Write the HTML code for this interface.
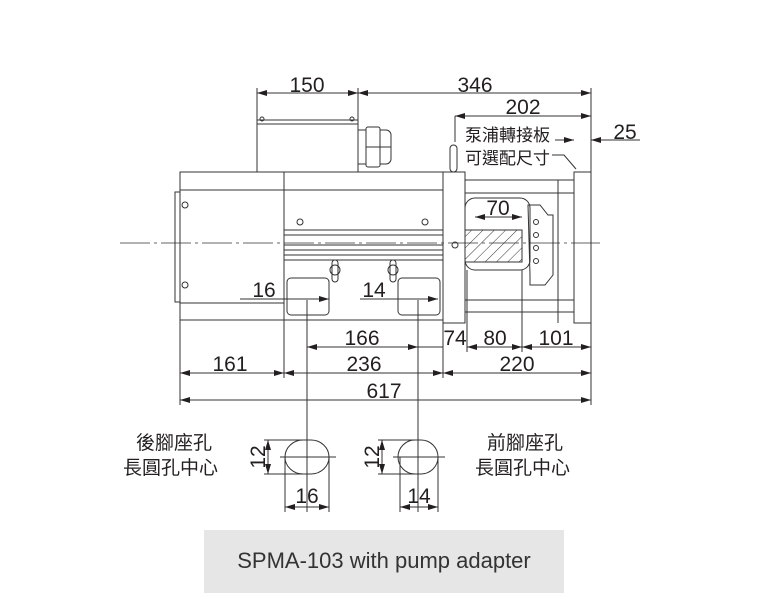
<!DOCTYPE html>
<html><head><meta charset="utf-8"><style>
html,body{margin:0;padding:0;background:#fff;}
svg{display:block;}
text{font-family:"Liberation Sans","Noto Sans CJK TC",sans-serif;fill:#231f20;}
.d{font-size:21px;text-anchor:middle;}
.c{font-size:17px;}
.e{font-size:19px;}
</style></head><body>
<svg width="768" height="611" viewBox="0 0 768 611" xmlns="http://www.w3.org/2000/svg">
<defs>
<marker id="a" viewBox="0 0 10 6" refX="10" refY="3" markerWidth="10" markerHeight="6" orient="auto-start-reverse" markerUnits="userSpaceOnUse"><path d="M0,0 L10,3 L0,6 z" fill="#231f20"/></marker>
<pattern id="h" width="8" height="8" patternUnits="userSpaceOnUse" patternTransform="rotate(45)"><line x1="0" y1="0" x2="0" y2="8" stroke="#333" stroke-width="1"/></pattern>
</defs>
<g stroke="#333" stroke-width="1" fill="none">
<line x1="120" y1="243" x2="600" y2="243" stroke-dasharray="30,4,3,4" stroke-width="0.8"/>
<rect x="257" y="120" width="101" height="52" fill="#fff"/>
<line x1="257" y1="124" x2="358" y2="124"/>
<circle cx="262" cy="119" r="2"/><circle cx="352" cy="119" r="2"/>
<rect x="358" y="130" width="8" height="34"/>
<rect x="366" y="127" width="14" height="40" rx="2"/>
<path d="M380 130 h6 a5 5 0 0 1 5 5 v24 a5 5 0 0 1 -5 5 h-6z"/>
<line x1="366" y1="147" x2="391" y2="147"/>
<rect x="180" y="172" width="263" height="148"/>
<line x1="284" y1="172" x2="284" y2="320"/>
<line x1="180" y1="190" x2="443" y2="190"/>
<line x1="180" y1="303" x2="284" y2="303"/>
<line x1="284" y1="260" x2="443" y2="260"/>
<rect x="175" y="192" width="5" height="110"/>
<circle cx="185" cy="205" r="3"/><circle cx="185" cy="285" r="3"/>
<circle cx="300" cy="222" r="3"/><circle cx="425" cy="222" r="3"/>
<line x1="284" y1="230" x2="443" y2="230"/>
<line x1="284" y1="235" x2="443" y2="235"/>
<line x1="284" y1="245" x2="443" y2="245"/>
<line x1="284" y1="250" x2="443" y2="250"/>
<line x1="284" y1="255" x2="443" y2="255"/>
<rect x="332" y="260" width="6" height="22" rx="3"/><rect x="390" y="260" width="6" height="22" rx="3"/>
<circle cx="335" cy="270" r="5"/><circle cx="393" cy="270" r="5"/>
<rect x="287" y="278" width="42" height="37" rx="4"/>
<rect x="398" y="278" width="42" height="37" rx="4"/>
<rect x="443" y="172" width="22" height="151"/>
<rect x="450" y="145" width="7" height="27" rx="3.5"/>
<circle cx="455" cy="245" r="3"/>
<rect x="465" y="180" width="109" height="13"/>
<rect x="465" y="300" width="109" height="12"/>
<line x1="558" y1="180" x2="558" y2="323"/>
<rect x="574" y="172" width="17" height="151"/>
<path d="M475 198 h45 a10 10 0 0 1 10 10 v52 a10 10 0 0 1 -10 10 h-45 a10 10 0 0 1 -10 -10 v-52 a10 10 0 0 1 10 -10z"/>
<rect x="465" y="230" width="57" height="32" fill="url(#h)"/>
<path d="M528 205 h12 l8 10 h5 v60 l-8 10 h-15 v-10 z"/>
<circle cx="536" cy="222" r="2.5"/><circle cx="536" cy="235" r="2.5"/><circle cx="536" cy="248" r="2.5"/><circle cx="536" cy="261" r="2.5"/>
<line x1="257" y1="88" x2="257" y2="120"/><line x1="358" y1="88" x2="358" y2="120"/>
<line x1="591" y1="88" x2="591" y2="172"/><line x1="455" y1="116" x2="455" y2="142"/>
<line x1="257" y1="93" x2="358" y2="93" marker-start="url(#a)" marker-end="url(#a)"/>
<line x1="358" y1="93" x2="591" y2="93" marker-start="url(#a)" marker-end="url(#a)"/>
<line x1="455" y1="116" x2="591" y2="116" marker-start="url(#a)" marker-end="url(#a)"/>
<line x1="555" y1="140" x2="574" y2="140" marker-end="url(#a)"/>
<line x1="640" y1="140" x2="591" y2="140" marker-end="url(#a)"/>
<path d="M552 155 h12 l12 14"/>
<line x1="475" y1="217" x2="522" y2="217" marker-start="url(#a)" marker-end="url(#a)"/>
<line x1="240" y1="299" x2="329" y2="299" marker-end="url(#a)"/>
<line x1="360" y1="299" x2="438" y2="299" marker-end="url(#a)"/>
<line x1="180" y1="320" x2="180" y2="405"/>
<line x1="284" y1="320" x2="284" y2="378"/>
<line x1="307" y1="300" x2="307" y2="512"/>
<line x1="418" y1="300" x2="418" y2="512"/>
<line x1="443" y1="323" x2="443" y2="378"/>
<line x1="467" y1="270" x2="467" y2="352"/>
<line x1="522" y1="270" x2="522" y2="352"/>
<line x1="591" y1="323" x2="591" y2="405"/>
<line x1="307" y1="347" x2="418" y2="347" marker-start="url(#a)" marker-end="url(#a)"/>
<line x1="418" y1="347" x2="443" y2="347"/>
<line x1="467" y1="347" x2="522" y2="347" marker-start="url(#a)" marker-end="url(#a)"/>
<line x1="522" y1="347" x2="591" y2="347" marker-start="url(#a)" marker-end="url(#a)"/>
<line x1="180" y1="373" x2="284" y2="373" marker-start="url(#a)" marker-end="url(#a)"/>
<line x1="284" y1="373" x2="443" y2="373" marker-start="url(#a)" marker-end="url(#a)"/>
<line x1="443" y1="373" x2="591" y2="373" marker-start="url(#a)" marker-end="url(#a)"/>
<line x1="180" y1="400" x2="591" y2="400" marker-start="url(#a)" marker-end="url(#a)"/>
<path d="M303 440 h8 a18 17 0 0 1 0 34 h-8 a18 17 0 0 1 0 -34z"/>
<line x1="280" y1="457" x2="336" y2="457"/>
<line x1="264" y1="440" x2="303" y2="440"/><line x1="264" y1="474" x2="303" y2="474"/>
<line x1="268" y1="440" x2="268" y2="474" marker-start="url(#a)" marker-end="url(#a)"/>
<line x1="285" y1="457" x2="285" y2="512"/><line x1="329" y1="457" x2="329" y2="512"/>
<line x1="285" y1="507" x2="329" y2="507" marker-start="url(#a)" marker-end="url(#a)"/>
<path d="M415 440 h6 a17 17 0 0 1 0 34 h-6 a17 17 0 0 1 0 -34z"/>
<line x1="393" y1="457" x2="445" y2="457"/>
<line x1="378" y1="440" x2="415" y2="440"/><line x1="378" y1="474" x2="415" y2="474"/>
<line x1="382" y1="440" x2="382" y2="474" marker-start="url(#a)" marker-end="url(#a)"/>
<line x1="400" y1="457" x2="400" y2="512"/><line x1="438" y1="457" x2="438" y2="512"/>
<line x1="400" y1="507" x2="438" y2="507" marker-start="url(#a)" marker-end="url(#a)"/>
</g>
<text class="d" x="307" y="92">150</text>
<text class="d" x="475" y="92">346</text>
<text class="d" x="523" y="114">202</text>
<text class="d" x="625" y="139">25</text>
<text class="c" x="465" y="141">泵浦轉接板</text>
<text class="c" x="465" y="164">可選配尺寸</text>
<text class="d" x="498" y="215">70</text>
<text class="d" x="264" y="297">16</text>
<text class="d" x="374" y="297">14</text>
<text class="d" x="362" y="345">166</text>
<text class="d" x="455" y="345">74</text>
<text class="d" x="495" y="345">80</text>
<text class="d" x="556" y="345">101</text>
<text class="d" x="230" y="371">161</text>
<text class="d" x="364" y="371">236</text>
<text class="d" x="517" y="371">220</text>
<text class="d" x="384" y="398">617</text>
<text class="d" x="307" y="503">16</text>
<text class="d" x="419" y="503">14</text>
<text class="d" transform="translate(265,457) rotate(-90)">12</text>
<text class="d" transform="translate(379,457) rotate(-90)">12</text>
<text class="e" x="136" y="449">後腳座孔</text>
<text class="e" x="123" y="474">長圓孔中心</text>
<text class="e" x="487" y="449">前腳座孔</text>
<text class="e" x="475" y="474">長圓孔中心</text>
<rect x="204" y="530" width="360" height="63" fill="#e6e6e6"/>
<text x="384" y="568" style="font-size:22px;text-anchor:middle;fill:#333">SPMA-103 with pump adapter</text>
</svg>
</body></html>
